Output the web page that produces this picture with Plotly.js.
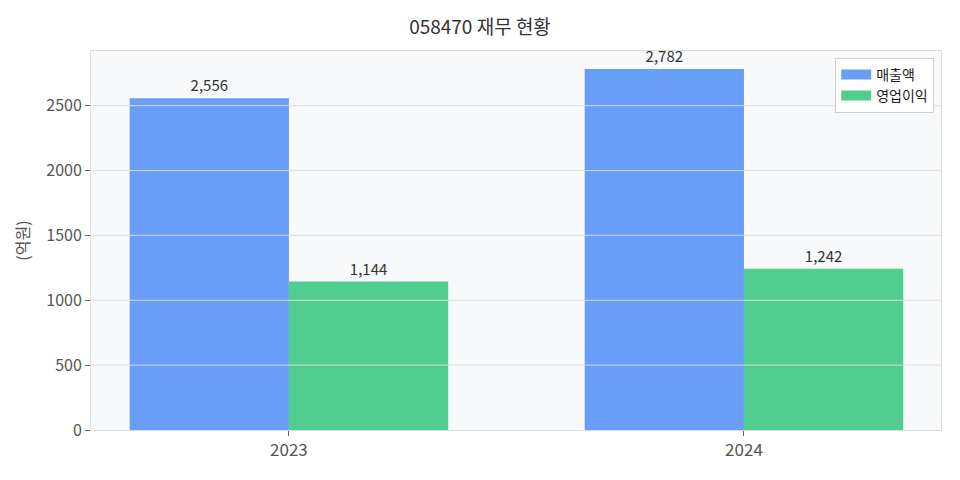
<!DOCTYPE html>
<html><head><meta charset="utf-8">
<script src="https://cdn.plot.ly/plotly-3.0.1.min.js"></script>
<style>body{margin:0}#c{width:960px;height:480px}</style>
</head><body><div id="c"></div>
<script>
const years = ['2023', '2024'];
const revenue = [2556, 2782];
const opProfit = [1144, 1242];
const seriesNames = ['매출액', '영업이익'];
const colors = ['#699ef8', '#51ce8f'];
const yTicks = [0, 500, 1000, 1500, 2000, 2500];

const font = 'Noto Sans CJK KR, Noto Sans, sans-serif';
const fmt = v => v.toLocaleString('en-US');

const traces = [
  {type:'bar', x:years, y:revenue, name:seriesNames[0], marker:{color:colors[0]}, showlegend:false,
   text:revenue.map(fmt), textposition:'outside', cliponaxis:false,
   textfont:{family:font, size:15, color:'#333'}},
  {type:'bar', x:years, y:opProfit, name:seriesNames[1], marker:{color:colors[1]}, showlegend:false,
   text:opProfit.map(fmt), textposition:'outside', cliponaxis:false,
   textfont:{family:font, size:15, color:'#333'}},
  // legend entries (wide rectangle swatches)
  {type:'scatter', mode:'lines', x:[years[0]], y:[null], name:seriesNames[0], line:{color:colors[0], width:10}, hoverinfo:'skip'},
  {type:'scatter', mode:'lines', x:[years[0]], y:[null], name:seriesNames[1], line:{color:colors[1], width:10}, hoverinfo:'skip'}
];

const ymax = Math.max(...revenue, ...opProfit) * 1.05;
const gridCol = 'rgba(222,222,222,0.9)';
const shapes = yTicks.slice(1).map(v => ({type:'line', xref:'paper', x0:0, x1:1, yref:'y', y0:v, y1:v,
  line:{color:gridCol, width:1}, layer:'above'}));
years.forEach(y => shapes.push({type:'line', xref:'x', x0:y, x1:y, yref:'paper', y0:0, y1:1,
  line:{color:gridCol, width:1}, layer:'above'}));

const layout = {
  width:960, height:480,
  margin:{l:91, r:19, t:51, b:50},
  paper_bgcolor:'#ffffff', plot_bgcolor:'#f8f9fb',
  font:{family:font, color:'#555'},
  title:{text:'058470 재무 현황', x:0.5, xanchor:'center', y:0.942, yanchor:'middle',
    font:{family:font, size:19, color:'#333'}},
  barmode:'group', bargap:0.3, bargroupgap:0,
  xaxis:{type:'category', range:[-0.435, 1.433], showgrid:false, zeroline:false,
    ticks:'outside', ticklen:5, tickcolor:'#666', tickfont:{size:17, color:'#555'},
    showline:true, linecolor:'#ddd', mirror:true},
  yaxis:{range:[0, ymax], tickvals:yTicks, ticktext:yTicks.map(String), showgrid:false, zeroline:false,
    ticks:'outside', ticklen:5, tickcolor:'#666', tickfont:{size:16, color:'#555'},
    showline:true, linecolor:'#ddd', mirror:true,
    title:{text:'(억원)', standoff:12, font:{size:16, color:'#555'}}},
  legend:{x:0.992, xanchor:'right', y:0.982, yanchor:'top', bgcolor:'#ffffff',
    bordercolor:'#d0d0d0', borderwidth:1, itemwidth:30, tracegroupgap:0,
    font:{size:14, color:'#222'}},
  shapes:shapes
};
Plotly.newPlot('c', traces, layout, {displayModeBar:false});
</script></body></html>
